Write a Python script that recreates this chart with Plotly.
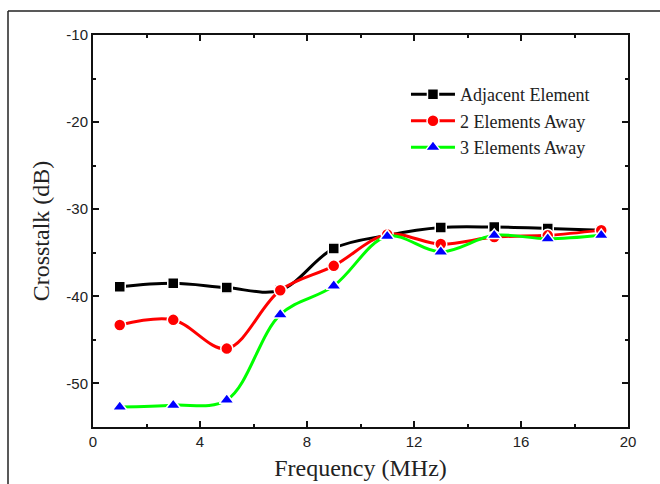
import plotly.graph_objects as go

freq = [1, 3, 5, 7, 9, 11, 13, 15, 17, 19]
adjacent = [-38.9, -38.5, -39.0, -39.3, -34.5, -33.0, -32.1, -32.05, -32.2, -32.4]
two_away = [-43.3, -42.7, -46.0, -39.3, -36.5, -32.9, -34.0, -33.2, -33.0, -32.4]
three_away = [-52.7, -52.5, -51.9, -42.1, -38.8, -33.1, -34.9, -33.0, -33.4, -33.0]

x_ticks = [0, 4, 8, 12, 16, 20]
y_ticks = [-10, -20, -30, -40, -50]

fig = go.Figure()
series = [
    ("Adjacent Element", adjacent, "#000000", "#000000", "square", 11),
    ("2 Elements Away", two_away, "#ff0000", "#ff0000", "circle", 12),
    ("3 Elements Away", three_away, "#00ff00", "#0000ff", "triangle-up", 13),
]
for name, ys, lc, mc, sym, ms in series:
    fig.add_trace(go.Scatter(
        x=freq, y=ys, name=name, mode="lines+markers",
        line=dict(color=lc, width=3, shape="spline", smoothing=1.0),
        marker=dict(color=mc, symbol=sym, size=ms, line=dict(color="white", width=1.5)),
    ))

axis_common = dict(
    showgrid=False, zeroline=False, showline=True, linecolor="#111111", linewidth=2,
    mirror="ticks", ticks="inside", ticklen=6, tickwidth=1.5, tickcolor="#111111",
    tickfont=dict(family="Liberation Sans, Arial", size=15, color="#222222"),
    automargin=False,
)
fig.update_xaxes(
    range=[0, 20], tickvals=x_ticks, ticktext=[str(v) for v in x_ticks],
    minor=dict(dtick=2, ticks="inside", ticklen=3, tickwidth=1.5, tickcolor="#111111"),
    title=dict(text="Frequency (MHz)", font=dict(family="Liberation Serif, Times New Roman", size=24, color="#222222"), standoff=10),
    **axis_common,
)
fig.update_yaxes(
    range=[-55, -10], tickvals=y_ticks, ticktext=[str(v) for v in y_ticks],
    minor=dict(dtick=5, ticks="inside", ticklen=3, tickwidth=1.5, tickcolor="#111111"),
    title=dict(text="Crosstalk (dB)", font=dict(family="Liberation Serif, Times New Roman", size=24, color="#222222"), standoff=10),
    **axis_common,
)

# outer frame (left and top edges)
fig.add_shape(type="line", xref="paper", yref="paper", x0=(8 - 93) / 535, x1=(8 - 93) / 535,
              y0=(427 - 11) / 392, y1=-0.2, line=dict(color="#222222", width=1.5))
fig.add_shape(type="line", xref="paper", yref="paper", x0=(8 - 93) / 535, x1=1.1,
              y0=(427 - 11) / 392, y1=(427 - 11) / 392, line=dict(color="#222222", width=1.5))

fig.update_layout(
    width=660, height=484,
    margin=dict(l=93, r=32, t=35, b=57),
    paper_bgcolor="white", plot_bgcolor="white",
    showlegend=True,
    legend=dict(x=0.585, y=0.895, xanchor="left", yanchor="top", bgcolor="rgba(0,0,0,0)",
                font=dict(family="Liberation Serif, Times New Roman", size=18, color="#222222"),
                itemwidth=44, tracegroupgap=0),
)

fig.write_html("out.html", config={"displayModeBar": False},
               post_script="document.body.style.margin='0';document.body.style.padding='0';")
